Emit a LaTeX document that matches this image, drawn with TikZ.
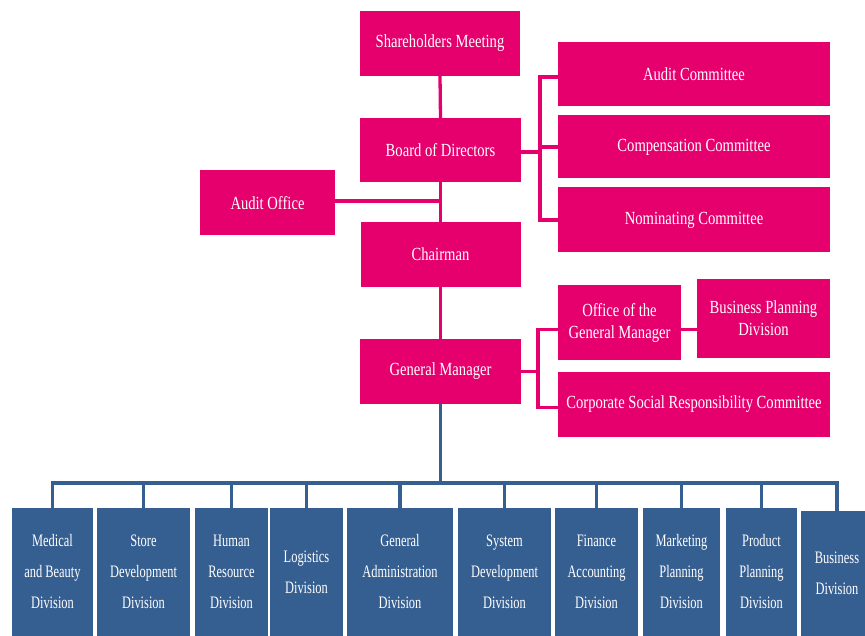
\documentclass[tikz,border=0pt]{standalone}
\usepackage{fontspec}
\setmainfont{Liberation Serif}
\newfontfamily\narrowserif{Liberation Serif}[FakeStretch=0.79]
\newfontfamily\narrowerserif{Liberation Serif}[FakeStretch=0.71]
\definecolor{brandpink}{HTML}{E5006E}
\definecolor{divblue}{HTML}{365F91}

\begin{document}
\begin{tikzpicture}[x=1pt,y=-1pt,
  pinkbox/.style={fill=brandpink, text=white, align=center, inner sep=0pt,
    font=\narrowserif\fontsize{18.5}{22}\selectfont},
  bluebox/.style={fill=divblue, text=white, align=center, inner sep=0pt,
    minimum height=128pt, font=\narrowerserif\fontsize{17.5}{31}\selectfont},
  pinkline/.style={draw=brandpink, line width=3.3pt},
  blueline/.style={draw=divblue, line width=3.5pt}]

\useasboundingbox (0,0) rectangle (865,636);

% governance boxes
\node[pinkbox, minimum width=160pt, minimum height=65pt] (sh)  at (440,43.5)  {Shareholders Meeting};
\node[pinkbox, minimum width=161pt, minimum height=64pt] (bod) at (440.5,150) {Board of Directors};
\node[pinkbox, minimum width=135pt, minimum height=65pt] (ao)  at (267.5,203) {Audit Office};
\node[pinkbox, minimum width=160pt, minimum height=65pt] (ch)  at (440.5,254.5) {Chairman};
\node[pinkbox, minimum width=161pt, minimum height=65pt] (gm)  at (440.5,371.5) {General Manager};

% committees
\node[pinkbox, minimum width=272pt, minimum height=64pt] (ac)  at (694,74)    {Audit Committee};
\node[pinkbox, minimum width=272pt, minimum height=63pt] (cc)  at (694,147)   {Compensation Committee};
\node[pinkbox, minimum width=272pt, minimum height=65pt] (nc)  at (694,220)   {Nominating Committee};
\node[pinkbox, minimum width=123pt, minimum height=75pt] (ogm) at (619.5,322.5) {Office of the\\General Manager};
\node[pinkbox, minimum width=133pt, minimum height=79pt] (bpd) at (763.5,318.5) {Business Planning\\Division};
\node[pinkbox, minimum width=272pt, minimum height=65pt] (csr) at (694,404.5) {Corporate Social Responsibility Committee};

% divisions
\node[bluebox, minimum width=81pt]  (d1)  at (52.5,572)  {Medical\\and Beauty\\Division};
\node[bluebox, minimum width=93pt]  (d2)  at (143.5,572) {Store\\Development\\Division};
\node[bluebox, minimum width=73pt]  (d3)  at (231.5,572) {Human\\Resource\\Division};
\node[bluebox, minimum width=73pt]  (d4)  at (306.5,572) {Logistics\\Division};
\node[bluebox, minimum width=106pt] (d5)  at (400,572)   {General\\Administration\\Division};
\node[bluebox, minimum width=93pt]  (d6)  at (504.5,572) {System\\Development\\Division};
\node[bluebox, minimum width=83pt]  (d7)  at (596.5,572) {Finance\\Accounting\\Division};
\node[bluebox, minimum width=77pt]  (d8)  at (681.5,572) {Marketing\\Planning\\Division};
\node[bluebox, minimum width=71pt]  (d9)  at (761.5,572) {Product\\Planning\\Division};
\node[bluebox, minimum width=72pt, minimum height=125pt] (d10) at (837,573.5) {Business\\Division};

% main reporting line
\draw[pinkline] (sh.south) -- (bod.north);
\draw[pinkline] (bod.south) -- (ch.north);
\draw[pinkline] (ch.south) -- (gm.north);
\draw[pinkline] ([yshift=2pt]ao.east) -- ([yshift=2pt]ao.east -| bod.south);

% board committees
\coordinate (bx) at (540,0);
\draw[pinkline] ([yshift=-3pt]ac.west) -- ([yshift=-3pt]ac.west -| bx) -- (nc.west -| bx) -- (nc.west);
\draw[pinkline] ([yshift=-2pt]bod.east) -- ([yshift=-2pt]bod.east -| bx);
\draw[pinkline] (cc.west) -- (cc.west -| bx);

% general manager staff
\coordinate (gx) at (538,0);
\coordinate (ogl) at ([yshift=-7pt]ogm.west);
\draw[pinkline] (ogl) -- (ogl -| gx) -- ([yshift=-3pt]csr.west -| gx) -- ([yshift=-3pt]csr.west);
\draw[pinkline] (gm.east) -- (gm.east -| gx);
\draw[pinkline] (ogl -| ogm.east) -- (ogl -| bpd.west);

% division bus
\coordinate (bus) at (0,483);
\draw[blueline] (gm.south) -- (gm.south |- bus);
\draw[blueline] ([yshift=-2pt]d1.north) -- (d1.north |- bus) -- (d10.north |- bus) -- (d10.north);
\foreach \d in {d2,d3,d4,d5,d6,d7,d8,d9}
  \draw[blueline] (\d.north |- bus) -- ([yshift=-2pt]\d.north);
\end{tikzpicture}
\end{document}
